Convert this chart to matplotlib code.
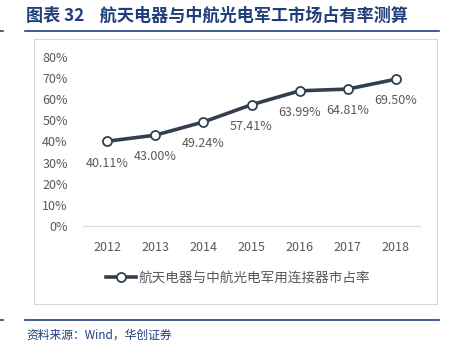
import matplotlib
matplotlib.use("Agg")
import matplotlib.pyplot as plt
from matplotlib.patches import Rectangle
from matplotlib.lines import Line2D

plt.rcParams["font.family"] = ["Noto Sans CJK SC", "DejaVu Sans"]

# ── Data ─────────────────────────────────────────────────────────────────────
years = ["2012", "2013", "2014", "2015", "2016", "2017", "2018"]
share = [40.11, 43.00, 49.24, 57.41, 63.99, 64.81, 69.50]
y_ticks = [0, 10, 20, 30, 40, 50, 60, 70, 80]

title = "图表 32    航天电器与中航光电军工市场占有率测算"
series_name = "航天电器与中航光电军用连接器市占率"
source = "资料来源：Wind，华创证券"

NAVY = "#1F3F7A"
LINE = "#333F50"
GREY = "#595959"

fig = plt.figure(figsize=(4.54, 3.54), dpi=100)

# frame lines and chart box
fig.add_artist(Line2D([25/454, 439/454], [1-31/354]*2, color=NAVY, lw=1.2))
fig.add_artist(Line2D([25/454, 439/454], [1-320/354]*2, color=NAVY, lw=1.2))
fig.add_artist(Line2D([0, 3/454], [1-31/354]*2, color=NAVY, lw=1.2))
fig.add_artist(Line2D([0, 3/454], [1-320/354]*2, color=NAVY, lw=1.2))
fig.add_artist(Rectangle((34/454, 1-304/354), 403/454, 265/354,
                         fill=False, ec="#D9D9D9", lw=0.8))

fig.text(26/454, 1-16/354, title, fontsize=12.3, fontweight="bold",
         color=NAVY, va="center", ha="left")
fig.text(26/454, 1-335/354, source, fontsize=8.5, color=NAVY,
         style="italic", va="center", ha="left")

ax = fig.add_axes([83/454, 1-226/354, 337/454, 169/354])
x = range(len(years))
ax.plot(x, share, color=LINE, lw=2.6, marker="o", markersize=6.5,
        markerfacecolor="white", markeredgecolor=LINE, markeredgewidth=1.3,
        zorder=3, clip_on=False)
for xi, v in zip(x, share):
    ax.annotate(f"{v:.2f}%", (xi, v), xytext=(0, -11), textcoords="offset points",
                ha="center", va="top", fontsize=9, color=GREY)

ax.set_xlim(-0.5, len(years) - 0.5)
ax.set_ylim(0, 80)
ax.set_yticks(y_ticks)
ax.set_yticklabels([f"{t}%" for t in y_ticks])
ax.set_xticks(list(x))
ax.set_xticklabels(years)
ax.tick_params(axis="both", length=0, labelsize=9, labelcolor=GREY)
ax.tick_params(axis="x", pad=11)
ax.tick_params(axis="y", pad=11)
for s in ["top", "right", "left"]:
    ax.spines[s].set_visible(False)
ax.spines["bottom"].set_color("#D9D9D9")
ax.patch.set_alpha(0)

handle = Line2D([], [], color=LINE, lw=2.6, marker="o", markersize=6.5,
                markerfacecolor="white", markeredgecolor=LINE, markeredgewidth=1.3)
fig.legend([handle], [series_name], loc="center", bbox_to_anchor=(238/454, 1-278/354),
           frameon=False, fontsize=9.8, labelcolor=GREY, handlelength=2.2,
           handletextpad=0.2)

fig.savefig("out.png", dpi=100)
